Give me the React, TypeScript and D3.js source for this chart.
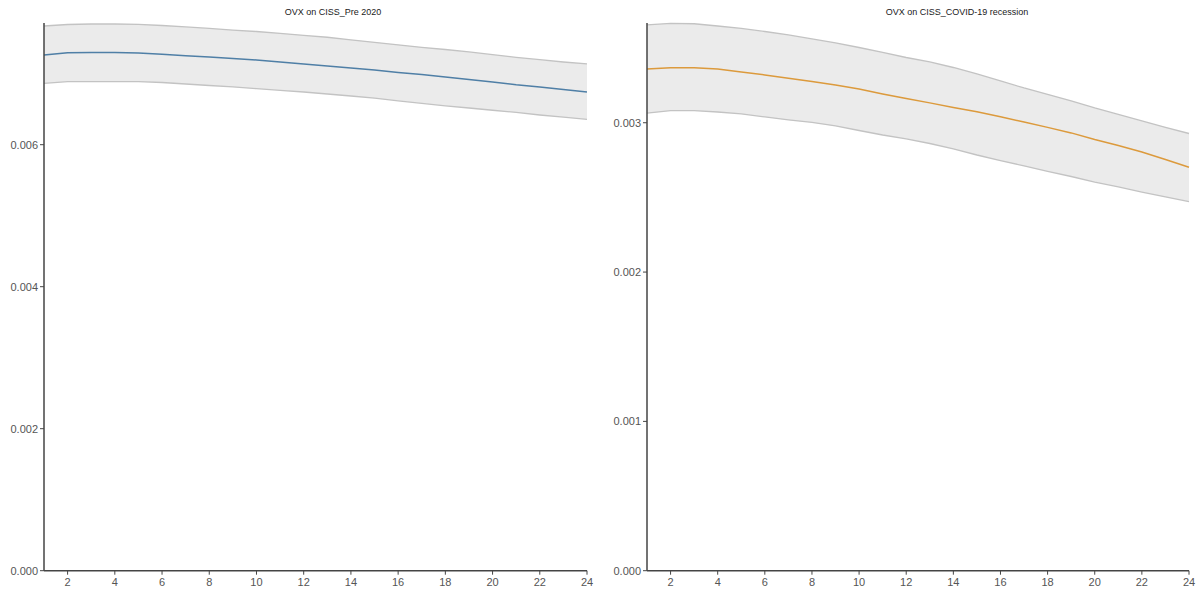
import React from "react";
import * as d3 from "d3";

// Forecast horizon (periods ahead)
const horizons = d3.range(1, 25);

// Response of OVX to a CISS shock, pre-2020 sample
const prePoint = [
  0.007263, 0.007296, 0.007298, 0.007297, 0.007292, 0.007273, 0.007254, 0.007235,
  0.007214, 0.007193, 0.007165, 0.007137, 0.007108, 0.00708, 0.007052, 0.007017,
  0.006989, 0.006954, 0.006918, 0.006883, 0.006844, 0.006813, 0.006777, 0.006742,
];
const preUpper = [
  0.007672, 0.007693, 0.0077, 0.0077, 0.007696, 0.007679, 0.007658, 0.007637,
  0.007615, 0.007594, 0.007569, 0.007541, 0.007513, 0.007477, 0.007442, 0.007407,
  0.007372, 0.007341, 0.007306, 0.007268, 0.007231, 0.007197, 0.007165, 0.007137,
];
const preLower = [
  0.006865, 0.006887, 0.006887, 0.006887, 0.006887, 0.006876, 0.006855, 0.006834,
  0.006813, 0.006789, 0.006766, 0.006742, 0.006714, 0.006686, 0.006655, 0.006618,
  0.006583, 0.006548, 0.006517, 0.006485, 0.006454, 0.006418, 0.006387, 0.006358,
];

// Response of OVX to a CISS shock, COVID-19 recession
const covidPoint = [
  0.00336, 0.003368, 0.003369, 0.00336, 0.00334, 0.00332, 0.003298, 0.003277,
  0.003253, 0.003226, 0.003193, 0.003163, 0.003133, 0.003102, 0.003074, 0.00304,
  0.003005, 0.002969, 0.002932, 0.002888, 0.002848, 0.002804, 0.002754, 0.002702,
];
const covidUpper = [
  0.003655, 0.003666, 0.003663, 0.003648, 0.003632, 0.003611, 0.003588, 0.003561,
  0.003535, 0.003504, 0.003471, 0.003437, 0.003407, 0.00337, 0.003327, 0.00328,
  0.003233, 0.00319, 0.003146, 0.003099, 0.003056, 0.003012, 0.002969, 0.002928,
];
const covidLower = [
  0.003064, 0.003081, 0.003081, 0.003072, 0.003059, 0.003039, 0.003019, 0.003002,
  0.002979, 0.002948, 0.002918, 0.002892, 0.002861, 0.002825, 0.002784, 0.002747,
  0.002711, 0.002674, 0.00264, 0.002603, 0.00257, 0.002536, 0.002503, 0.002472,
];

const xTicks = [2, 4, 6, 8, 10, 12, 14, 16, 18, 20, 22, 24];
const preYTicks = [0, 0.002, 0.004, 0.006];
const covidYTicks = [0, 0.001, 0.002, 0.003];

const FONT = "'Liberation Sans', Arial, sans-serif";

type PanelProps = {
  title: string;
  titleX: number;
  left: number;
  right: number;
  top: number;
  bottom: number;
  yMax: number;
  yTicks: number[];
  point: number[];
  upper: number[];
  lower: number[];
  color: string;
};

function Panel(p: PanelProps) {
  const x = d3.scaleLinear().domain([1, 24]).range([p.left, p.right]);
  const y = d3.scaleLinear().domain([0, p.yMax]).range([p.bottom, p.top]);

  const rows = horizons.map((h, i) => ({ h, m: p.point[i], hi: p.upper[i], lo: p.lower[i] }));
  const area = d3
    .area<(typeof rows)[number]>()
    .x((d) => x(d.h))
    .y0((d) => y(d.lo))
    .y1((d) => y(d.hi));
  const line = (key: "m" | "hi" | "lo") =>
    d3
      .line<(typeof rows)[number]>()
      .x((d) => x(d.h))
      .y((d) => y(d[key]))(rows) || "";

  return (
    <g>
      <text
        x={p.titleX}
        y={15}
        textAnchor="middle"
        fontFamily={FONT}
        fontSize={9}
        fill="#1a1a1a"
      >
        {p.title}
      </text>
      <path d={area(rows) || ""} fill="#ebebeb" />
      <path d={line("hi")} fill="none" stroke="#c3c3c3" strokeWidth={1.3} />
      <path d={line("lo")} fill="none" stroke="#c3c3c3" strokeWidth={1.3} />
      <path d={line("m")} fill="none" stroke={p.color} strokeWidth={1.5} />

      {/* y axis */}
      <line x1={p.left} x2={p.left} y1={p.top} y2={p.bottom} stroke="#444" strokeWidth={1.5} />
      {p.yTicks.map((t) => (
        <g key={t} transform={`translate(0,${y(t)})`}>
          <line x1={p.left - 4} x2={p.left} stroke="#444" strokeWidth={1} />
          <text
            x={p.left - 6}
            dy="0.35em"
            textAnchor="end"
            fontFamily={FONT}
            fontSize={11}
            fill="#555"
          >
            {d3.format(".3f")(t)}
          </text>
        </g>
      ))}

      {/* x axis */}
      <line x1={p.left} x2={p.right} y1={p.bottom} y2={p.bottom} stroke="#444" strokeWidth={1.5} />
      {xTicks.map((t) => (
        <g key={t} transform={`translate(${x(t)},0)`}>
          <line y1={p.bottom} y2={p.bottom + 4} stroke="#444" strokeWidth={1} />
          <text
            y={p.bottom + 15}
            textAnchor="middle"
            fontFamily={FONT}
            fontSize={11}
            fill="#555"
          >
            {t}
          </text>
        </g>
      ))}
    </g>
  );
}

export default function App() {
  return (
    <svg
      width={1204}
      height={590}
      style={{ position: "absolute", left: 0, top: 0, background: "#fff" }}
    >
      <Panel
        title="OVX on CISS_Pre 2020"
        titleX={333}
        left={44}
        right={587}
        top={23}
        bottom={570.7}
        yMax={0.007714}
        yTicks={preYTicks}
        point={prePoint}
        upper={preUpper}
        lower={preLower}
        color="#4f7fa6"
      />
      <Panel
        title="OVX on CISS_COVID-19 recession"
        titleX={957}
        left={647}
        right={1189}
        top={23}
        bottom={570.7}
        yMax={0.003668}
        yTicks={covidYTicks}
        point={covidPoint}
        upper={covidUpper}
        lower={covidLower}
        color="#dc9a3c"
      />
    </svg>
  );
}
